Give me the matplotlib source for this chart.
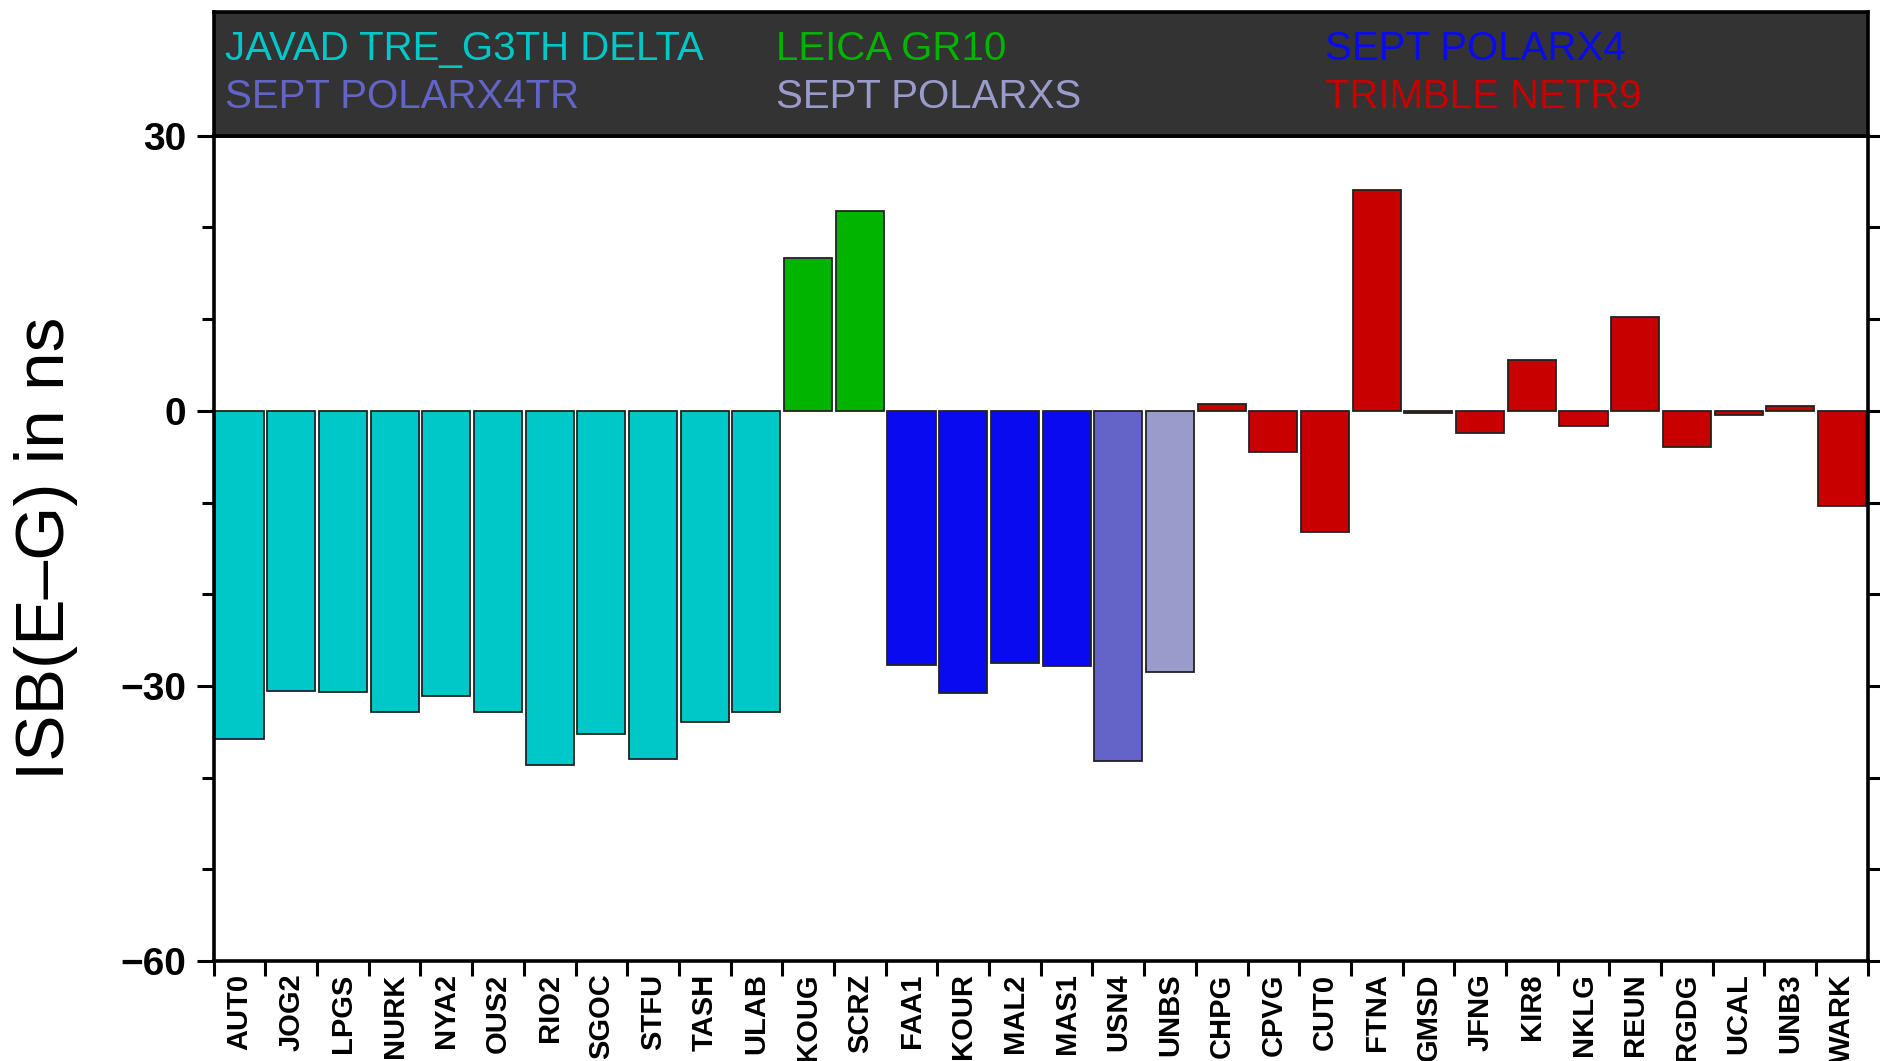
import matplotlib
matplotlib.use("Agg")
import matplotlib.pyplot as plt
import numpy as np

# ── Data ─────────────────────────────────────────────────────────────────────
stations = ["AUT0", "JOG2", "LPGS", "NURK", "NYA2", "OUS2", "RIO2", "SGOC", "STFU",
            "TASH", "ULAB", "KOUG", "SCRZ", "FAA1", "KOUR", "MAL2", "MAS1", "USN4",
            "UNBS", "CHPG", "CPVG", "CUT0", "FTNA", "GMSD", "JFNG", "KIR8", "NKLG",
            "REUN", "RGDG", "UCAL", "UNB3", "WARK"]
isb = [-35.8, -30.6, -30.7, -32.8, -31.1, -32.9, -38.6, -35.2, -38.0,
       -33.9, -32.9, 16.7, 21.8, -27.7, -30.8, -27.5, -27.8, -38.2,
       -28.5, 0.8, -4.5, -13.2, 24.1, -0.2, -2.4, 5.5, -1.7,
       10.2, -3.9, -0.4, 0.5, -10.4]
receiver = (["JAVAD TRE_G3TH DELTA"] * 11 + ["LEICA GR10"] * 2 + ["SEPT POLARX4"] * 4
            + ["SEPT POLARX4TR"] + ["SEPT POLARXS"] + ["TRIMBLE NETR9"] * 13)

receivers = ["JAVAD TRE_G3TH DELTA", "LEICA GR10", "SEPT POLARX4",
             "SEPT POLARX4TR", "SEPT POLARXS", "TRIMBLE NETR9"]
rx_colors = {"JAVAD TRE_G3TH DELTA": "#00C8C8",
             "LEICA GR10": "#00B400",
             "SEPT POLARX4": "#0A0AF0",
             "SEPT POLARX4TR": "#6464C8",
             "SEPT POLARXS": "#9B9BCB",
             "TRIMBLE NETR9": "#C80000"}

BOLD = dict(family=["Liberation Sans", "DejaVu Sans"], weight="bold")

# ── Plot ─────────────────────────────────────────────────────────────────────
fig = plt.figure(figsize=(18.81, 10.61), dpi=100)
ax = fig.add_axes([0.1136, 0.0943, 0.8794, 0.7777])

x = np.arange(len(stations))
ax.bar(x, isb, width=0.93, color=[rx_colors[r] for r in receiver],
       edgecolor="#222222", linewidth=1.3, zorder=2)

ax.set_xlim(-0.5, len(stations) - 0.5)
ax.set_ylim(-60, 30)

ax.set_yticks([-60, -30, 0, 30])
ax.set_yticks(np.arange(-60, 31, 10), minor=True)
ax.set_yticklabels(["\u221260", "\u221230", "0", "30"], fontsize=28, **BOLD)
ax.tick_params(axis="y", which="both", direction="out", right=True, width=2.2)
ax.tick_params(axis="y", which="major", length=12, pad=8)
ax.tick_params(axis="y", which="minor", length=9)

# ticks at bar boundaries, labels at bar centres
ax.set_xticks(np.arange(-0.5, len(stations), 1.0))
ax.set_xticklabels([])
ax.tick_params(axis="x", which="major", direction="out", length=11, width=2.2)
ax.set_xticks(x, minor=True)
ax.set_xticklabels(stations, minor=True, rotation=90, fontsize=21, **BOLD)
ax.tick_params(axis="x", which="minor", length=0, pad=9)

for s in ax.spines.values():
    s.set_linewidth(2.6)

ax.set_ylabel("ISB(E\u2013G) in ns", fontsize=50,
              family=["Liberation Sans", "DejaVu Sans"], labelpad=30)

# ── Legend box on top ────────────────────────────────────────────────────────
lax = fig.add_axes([0.1136, 0.8720, 0.8794, 0.1167])
lax.set_facecolor("#333333")
lax.set_xticks([])
lax.set_yticks([])
for s in lax.spines.values():
    s.set_linewidth(2.6)
    s.set_color("black")

col_x = [0.007, 0.340, 0.672]
row_y = [0.70, 0.31]
for i, r in enumerate(receivers):
    lax.text(col_x[i % 3], row_y[i // 3], r, transform=lax.transAxes,
             color=rx_colors[r], fontsize=29, va="center", ha="left",
             family=["Liberation Sans", "DejaVu Sans"])

fig.savefig("out.png", dpi=100)
